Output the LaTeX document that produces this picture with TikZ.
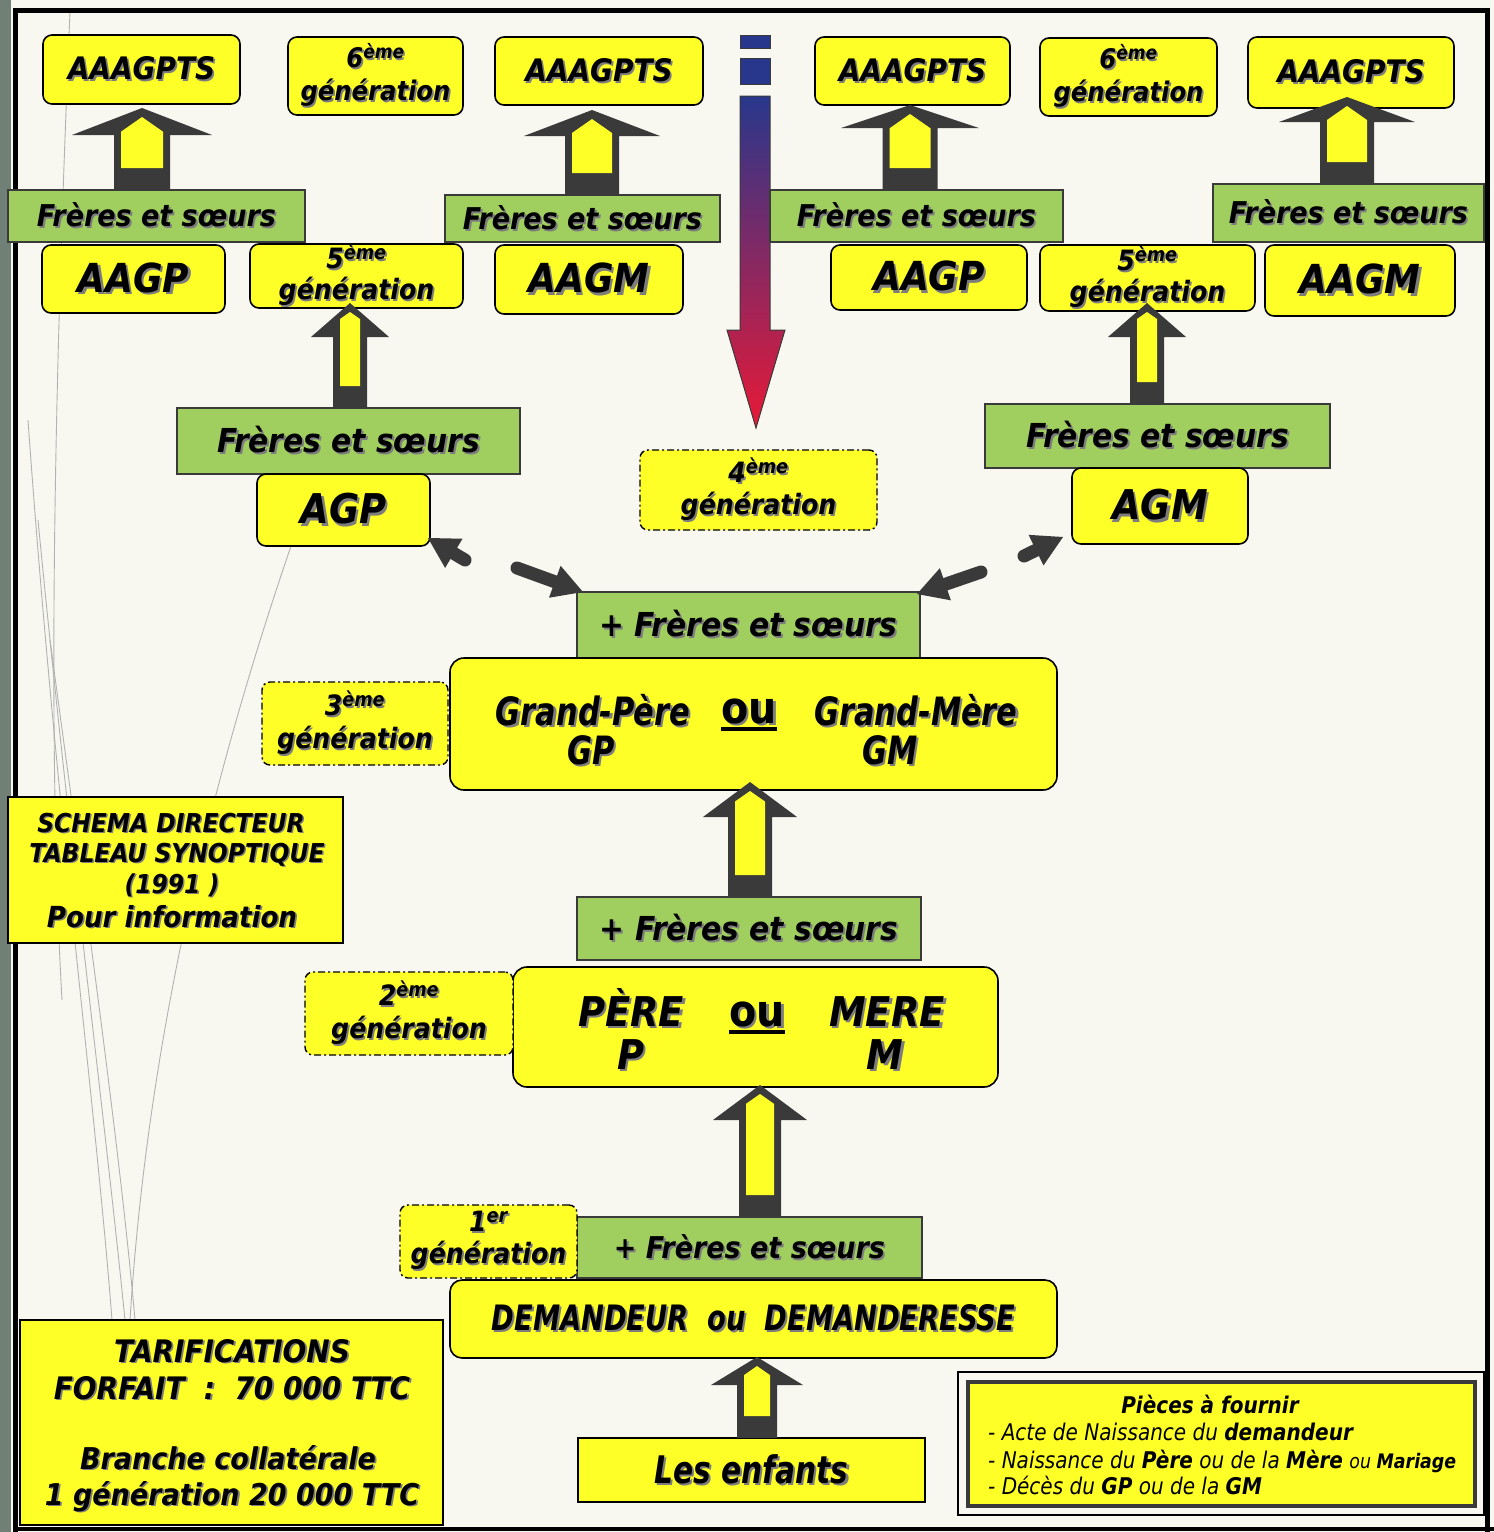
\documentclass[tikz,border=0pt]{standalone}
\usepackage{fontspec}
\usetikzlibrary{calc}
\newfontfamily\vf{DejaVu Sans}[BoldFont={DejaVu Sans Bold},ItalicFont={DejaVu Sans Oblique},BoldItalicFont={DejaVu Sans Bold Oblique},FakeStretch=0.9]
\newfontfamily\tf{DejaVu Sans}[BoldFont={DejaVu Sans Bold},ItalicFont={DejaVu Sans Oblique},BoldItalicFont={DejaVu Sans Bold Oblique},FakeStretch=0.78]
\newfontfamily\pf{DejaVu Sans}[BoldFont={DejaVu Sans Bold},ItalicFont={DejaVu Sans Oblique},BoldItalicFont={DejaVu Sans Bold Oblique},FakeStretch=0.87]
\definecolor{yel}{RGB}{255,255,40}
\definecolor{grn}{RGB}{160,206,95}
\definecolor{darkg}{RGB}{58,58,58}
\definecolor{bgc}{RGB}{248,248,241}
\definecolor{shd}{RGB}{125,125,125}
\definecolor{edg}{RGB}{112,128,118}
\definecolor{ablue}{RGB}{40,55,140}
\definecolor{apurp}{RGB}{125,30,120}
\definecolor{ared}{RGB}{232,25,55}
\newcommand\BV[2]{\vf\bfseries\itshape\fontsize{#1}{#2}\selectfont}
\newcommand\BT[2]{\tf\bfseries\itshape\fontsize{#1}{#2}\selectfont}
\newcommand\shd[1]{\leavevmode\rlap{\kern0.06em\raisebox{-0.06em}{\color{shd}#1}}#1}
\newcommand\bx[7]{%
  \pgfmathsetmacro\bw{#4-#2}\pgfmathsetmacro\bh{#5-#3}%
  \pgfmathsetmacro\bcx{(#2+#4)/2}\pgfmathsetmacro\bcy{(#3+#5)/2}%
  \node[#6, minimum width=\bw pt, minimum height=\bh pt] (#1) at (\bcx,\bcy) {#7};}
\newcommand\uparr[6]{%
  \fill[darkg] (#1,#2) -- (#1+#5,#3) -- (#1+#6,#3) -- (#1+#6,#4) -- (#1-#6,#4) -- (#1-#6,#3) -- (#1-#5,#3) -- cycle;
  \pgfmathsetmacro\ih{#6-7}%
  \fill[yel] (#1,#2+9) -- (#1+\ih,#2+9+\ih*0.7) -- (#1+\ih,#4-22) -- (#1-\ih,#4-22) -- (#1-\ih,#2+9+\ih*0.7) -- cycle;}
\newcommand\darr[2]{%
  \coordinate (dt) at (#1); \coordinate (dh) at (#2);
  \coordinate (db) at ($(dh)!30pt!(dt)$);
  \draw[darkg, line width=13pt, line cap=round] (dt) -- ($(db)!-2pt!(dt)$);
  \fill[darkg] (dh) -- ($(db)!17pt!90:(dh)$) -- ($(db)!17pt!-90:(dh)$) -- cycle;}
\tikzset{
  ybox/.style={draw=black, line width=1.6pt, fill=yel, rounded corners=9pt, inner sep=0pt, align=center},
  gbox/.style={draw=darkg, line width=1.6pt, fill=grn, inner sep=0pt, align=center},
  dbox/.style={draw=black, line width=1.4pt, dash pattern=on 7pt off 3pt on 2pt off 3pt, fill=yel, rounded corners=8pt, inner sep=0pt, align=center},
  sbox/.style={draw=black, line width=1.4pt, fill=yel, inner sep=0pt, align=center},
  lbl/.style={inner sep=0pt, anchor=base, align=center},
  deco/.style={draw=gray!60, line width=0.9pt},
}
\begin{document}
\begin{tikzpicture}[x=1pt,y=-1pt]
\useasboundingbox (0,0) rectangle (1494,1532);
\fill[bgc] (0,0) rectangle (1494,1532);
% decorative curves
\draw[deco] (70,12) .. controls (58,300) and (45,700) .. (62,1000);
\draw[deco] (28,420) .. controls (55,800) and (95,1100) .. (112,1320);
\draw[deco] (38,520) .. controls (70,850) and (105,1120) .. (125,1320);
\draw[deco] (50,640) .. controls (85,900) and (120,1150) .. (135,1320);
\draw[deco] (300,520) .. controls (230,720) and (150,1000) .. (130,1320);
% page frame
\fill[edg] (0,0) rectangle (11,1532);
\draw[black, line width=5pt] (15,1532) -- (15,10) -- (1487,10) -- (1487,1532);
\draw[black, line width=4pt] (15,1529) -- (1494,1529);
% central gradient arrow
\filldraw[fill=ablue, draw=darkg, line width=1pt] (740,35) rectangle (770,48);
\filldraw[fill=ablue, draw=darkg, line width=1pt] (740,58) rectangle (770,84);
\shade[top color=ablue, middle color=apurp, bottom color=ared, draw=darkg, line width=1pt]
  (740,96) -- (770,96) -- (770,330) -- (785,330) -- (756,428) -- (727,330) -- (740,330) -- cycle;
% green boxes
\bx{fs1}{8}{190}{305}{242}{gbox,font=\BV{30}{30}}{\shd{Frères et sœurs}}
\bx{fs2}{445}{195}{720}{242}{gbox,font=\BV{30}{30}}{\shd{Frères et sœurs}}
\bx{fs3}{770}{190}{1063}{242}{gbox,font=\BV{30}{30}}{\shd{Frères et sœurs}}
\bx{fs4}{1213}{184}{1484}{242}{gbox,font=\BV{30}{30}}{\shd{Frères et sœurs}}
\bx{fs5}{177}{408}{520}{474}{gbox,font=\BV{33}{33}}{\shd{Frères et sœurs}}
\bx{fs6}{985}{404}{1330}{468}{gbox,font=\BV{33}{33}}{\shd{Frères et sœurs}}
\bx{fsc1}{577}{592}{920}{658}{gbox,font=\BV{33}{33}}{\shd{+ Frères et sœurs}}
\bx{fsc2}{577}{897}{921}{960}{gbox,font=\BV{33}{33}}{\shd{+ Frères et sœurs}}
\bx{fsc3}{577}{1217}{922}{1278}{gbox,font=\BV{30}{30}}{\shd{+ Frères et sœurs}}
% top row
\bx{aaa1}{43}{35}{240}{104}{ybox,font=\BV{31}{36}}{\shd{AAAGPTS}}
\bx{gen6a}{288}{37}{463}{115}{ybox,font=\BV{27}{33}}{\shd{6\textsuperscript{ème}}\\\shd{génération}}
\bx{aaa2}{495}{37}{703}{105}{ybox,font=\BV{31}{36}}{\shd{AAAGPTS}}
\bx{aaa3}{815}{37}{1010}{105}{ybox,font=\BV{31}{36}}{\shd{AAAGPTS}}
\bx{gen6b}{1040}{38}{1217}{116}{ybox,font=\BV{27}{33}}{\shd{6\textsuperscript{ème}}\\\shd{génération}}
\bx{aaa4}{1248}{37}{1454}{108}{ybox,font=\BV{31}{36}}{\shd{AAAGPTS}}
% row 3
\bx{aagp1}{42}{245}{225}{313}{ybox,font=\BV{40}{40}}{\shd{AAGP}}
\bx{gen5a}{250}{244}{463}{308}{ybox,font=\BV{28}{31}}{\shd{5\textsuperscript{ème}}\\\shd{génération}}
\bx{aagm1}{495}{245}{683}{314}{ybox,font=\BV{40}{40}}{\shd{AAGM}}
\bx{aagp2}{831}{245}{1027}{310}{ybox,font=\BV{40}{40}}{\shd{AAGP}}
\bx{gen5b}{1040}{245}{1255}{311}{ybox,font=\BV{28}{31}}{\shd{5\textsuperscript{ème}}\\\shd{génération}}
\bx{aagm2}{1265}{245}{1455}{316}{ybox,font=\BV{40}{40}}{\shd{AAGM}}
% row 4
\bx{agp}{257}{474}{430}{546}{ybox,font=\BV{41}{41}}{\shd{AGP}}
\bx{gen4}{640}{450}{877}{530}{dbox,font=\BV{28}{32}}{\shd{4\textsuperscript{ème}}\\\shd{génération}}
\bx{agm}{1072}{468}{1248}{544}{ybox,font=\BV{41}{41}}{\shd{AGM}}
% grandparents
\bx{gp}{450}{658}{1057}{790}{ybox,rounded corners=14pt}{}
\bx{gen3}{262}{682}{448}{765}{dbox,font=\BV{28}{33}}{\shd{3\textsuperscript{ème}}\\\shd{génération}}
\node[lbl,font=\BT{39}{39}] (gpa) at (593,725) {\shd{Grand-Père}};
\node[lbl,font=\BT{39}{39}] (gma) at (916,725) {\shd{Grand-Mère}};
\node[lbl,font=\BT{39}{39}] (gpb) at (591,764) {\shd{GP}};
\node[lbl,font=\BT{39}{39}] (gmb) at (890,764) {\shd{GM}};
\node[lbl,font=\vf\bfseries\fontsize{44}{44}\selectfont] (ou1) at (749,723) {\shd{ou}};
\draw[line width=3.5pt] ([yshift=-6pt]ou1.base west) -- ([yshift=-6pt]ou1.base east);
% schema
\bx{schema}{8}{797}{343}{943}{sbox,line width=1.2pt}{}
\node[lbl,font=\BV{26}{26}] (sc1) at (171,832) {\shd{SCHEMA DIRECTEUR}};
\node[lbl,font=\BV{26}{26}] (sc2) at (177,862) {\shd{TABLEAU SYNOPTIQUE}};
\node[lbl,font=\BV{26}{26}] (sc3) at (172,893) {\shd{(1991 )}};
\node[lbl,font=\BV{29}{29}] (sc4) at (172,927) {\shd{Pour information}};
% parents
\bx{pere}{513}{967}{998}{1087}{ybox,rounded corners=14pt}{}
\bx{gen2}{305}{972}{513}{1055}{dbox,font=\BV{28}{33}}{\shd{2\textsuperscript{ème}}\\\shd{génération}}
\node[lbl,font=\BV{41}{41}] (pa) at (631,1026) {\shd{PÈRE}};
\node[lbl,font=\BV{41}{41}] (ma) at (887,1026) {\shd{MERE}};
\node[lbl,font=\BV{41}{41}] (pb) at (631,1069) {\shd{P}};
\node[lbl,font=\BV{41}{41}] (mb) at (885,1069) {\shd{M}};
\node[lbl,font=\vf\bfseries\fontsize{44}{44}\selectfont] (ou2) at (757,1026) {\shd{ou}};
\draw[line width=3.5pt] ([yshift=-6pt]ou2.base west) -- ([yshift=-6pt]ou2.base east);
% demandeur
\bx{gen1}{400}{1205}{577}{1278}{dbox,font=\BV{28}{32}}{\shd{1\textsuperscript{er}}\\\shd{génération}}
\bx{dem}{450}{1280}{1057}{1358}{ybox,rounded corners=12pt,font=\BT{35}{35}}{\shd{DEMANDEUR\ \ ou\ \ DEMANDERESSE}}
\bx{enf}{578}{1438}{925}{1502}{sbox,line width=1.8pt,font=\BT{38}{38}}{\shd{Les enfants}}
% tarifs
\bx{tarif}{20}{1320}{443}{1525}{sbox,line width=1.2pt}{}
\node[lbl,font=\BV{31}{31}] (ta1) at (232,1362) {\shd{TARIFICATIONS}};
\node[lbl,font=\BV{31}{31}] (ta2) at (232,1399) {\shd{FORFAIT\ \ :\ \ 70 000 TTC}};
\node[lbl,font=\BV{30}{30}] (ta3) at (228,1469) {\shd{Branche collatérale}};
\node[lbl,font=\BV{30}{30}] (ta4) at (232,1505) {\shd{1 génération 20 000 TTC}};
% pieces
\bx{piec}{958}{1372}{1484}{1515}{draw=black,line width=1.5pt,fill=bgc}{}
\bx{pieci}{968}{1382}{1475}{1506}{draw=darkg,line width=4pt,fill=yel}{}
\node[lbl,font=\pf\bfseries\itshape\fontsize{23}{23}\selectfont] (pc0) at (1210,1413) {Pièces à fournir};
\node[inner sep=0pt,anchor=base west,font=\pf\itshape\fontsize{23}{23}\selectfont] (pc1) at (988,1440) {- Acte de Naissance du \textbf{demandeur}};
\node[inner sep=0pt,anchor=base west,font=\pf\itshape\fontsize{23}{23}\selectfont] (pc2) at (988,1468) {- Naissance du \textbf{Père} ou de la \textbf{Mère} {\fontsize{20}{20}\selectfont ou \textbf{Mariage}}};
\node[inner sep=0pt,anchor=base west,font=\pf\itshape\fontsize{23}{23}\selectfont] (pc3) at (988,1494) {- Décès du \textbf{GP} ou de la \textbf{GM}};
% block arrows
\uparr{142}{108}{135}{190}{70}{28}
\uparr{592}{110}{136}{195}{68}{27}
\uparr{910}{105}{128}{190}{69}{27.5}
\uparr{1347}{97}{122}{184}{68}{27}
\uparr{350}{303}{337}{408}{39}{17}
\uparr{1147}{303}{337}{404}{39}{17}
\uparr{750}{782}{817}{897}{47}{22}
\uparr{760}{1085}{1120}{1217}{47}{21}
\uparr{757}{1357}{1385}{1438}{46}{20}
% diagonal arrows
\darr{465,560}{428,538}
\darr{517,568}{583,592}
\darr{981,572}{917,594}
\darr{1024,556}{1063,537}
\end{tikzpicture}
\end{document}
